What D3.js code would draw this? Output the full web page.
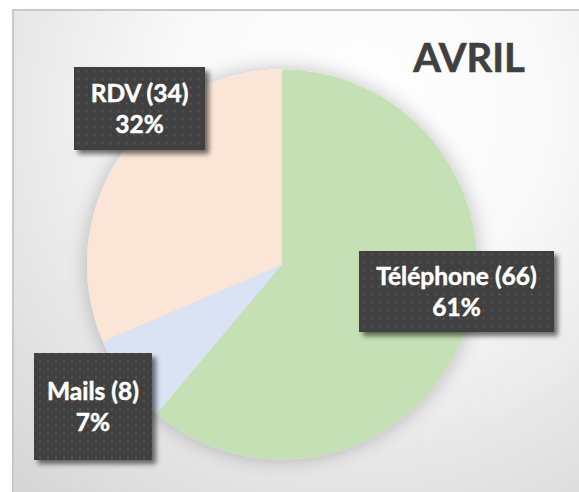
<!DOCTYPE html>
<html>
<head>
<meta charset="utf-8">
<script src="https://cdn.jsdelivr.net/npm/d3@7"></script>
<style>
  html, body { margin: 0; padding: 0; background: #fff; }
  svg { display: block; }
</style>
</head>
<body>
<div id="chart"></div>
<script>
// data
var categories = ["Téléphone", "Mails", "RDV"];
var values = [66, 8, 34];
var colors = ["#c5e0b4", "#dae3f3", "#fbe5d6"];
var title = "AVRIL";

var width = 579, height = 492;
var cx = 282, cy = 264.5, radius = 195;

// label box layout (center offset from pie center, box size)
var labelLayout = [
  { dx: 174.5, dy: 27, w: 195, h: 81 },
  { dx: -189, dy: 142, w: 118, h: 107 },
  { dx: -142.5, dy: -156, w: 131, h: 83 }
];

// percentages rounded so they add up to 100 (like Excel's labels)
function percents(vals) {
  var tot = d3.sum(vals);
  var raw = vals.map(function(v) { return v / tot * 100; });
  var fl = raw.map(Math.floor);
  var left = 100 - d3.sum(fl);
  var order = d3.range(vals.length).sort(function(a, b) {
    return (raw[b] - fl[b]) - (raw[a] - fl[a]);
  });
  for (var k = 0; k < left; k++) fl[order[k]] += 1;
  return fl;
}
var pct = percents(values);

var svg = d3.select("#chart").append("svg")
    .attr("width", width)
    .attr("height", height);

var defs = svg.append("defs");

var bg = defs.append("radialGradient")
    .attr("id", "bg")
    .attr("gradientUnits", "userSpaceOnUse")
    .attr("cx", 360).attr("cy", 110).attr("r", 500);
bg.append("stop").attr("offset", "0%").attr("stop-color", "#ffffff");
bg.append("stop").attr("offset", "40%").attr("stop-color", "#f8f8f8");
bg.append("stop").attr("offset", "100%").attr("stop-color", "#d7d7d7");

var pat = defs.append("pattern")
    .attr("id", "dots")
    .attr("patternUnits", "userSpaceOnUse")
    .attr("width", 8).attr("height", 8);
pat.append("rect").attr("width", 8).attr("height", 8).attr("fill", "#404040");
pat.append("rect").attr("x", 2).attr("y", 2).attr("width", 2).attr("height", 2).attr("fill", "#575757");
pat.append("rect").attr("x", 6).attr("y", 6).attr("width", 1).attr("height", 1).attr("fill", "#4c4c4c");

var glow = defs.append("filter").attr("id", "glow")
    .attr("x", "-20%").attr("y", "-20%").attr("width", "140%").attr("height", "140%");
glow.append("feGaussianBlur").attr("in", "SourceAlpha").attr("stdDeviation", 10).attr("result", "b");
glow.append("feComponentTransfer").attr("in", "b").attr("result", "s")
  .append("feFuncA").attr("type", "linear").attr("slope", 0.25);
var gm = glow.append("feMerge");
gm.append("feMergeNode").attr("in", "s");
gm.append("feMergeNode").attr("in", "SourceGraphic");

var shadow = defs.append("filter").attr("id", "shadow")
    .attr("x", "-20%").attr("y", "-20%").attr("width", "140%").attr("height", "140%");
shadow.append("feGaussianBlur").attr("in", "SourceAlpha").attr("stdDeviation", 2.5).attr("result", "b");
shadow.append("feOffset").attr("in", "b").attr("dx", 4).attr("dy", 4).attr("result", "o");
shadow.append("feComponentTransfer").attr("in", "o").attr("result", "s")
  .append("feFuncA").attr("type", "linear").attr("slope", 0.55);
var sm = shadow.append("feMerge");
sm.append("feMergeNode").attr("in", "s");
sm.append("feMergeNode").attr("in", "SourceGraphic");

// chart area
svg.append("rect")
    .attr("x", 13).attr("y", 10)
    .attr("width", width).attr("height", height)
    .attr("fill", "url(#bg)")
    .attr("stroke", "#c9c9c9")
    .attr("stroke-width", 2);

svg.append("text")
    .attr("x", 469).attr("y", 72)
    .attr("text-anchor", "middle")
    .attr("font-family", "Lato, sans-serif")
    .attr("font-weight", "bold")
    .attr("font-size", 40)
    .attr("fill", "#404040")
    .attr("stroke", "#404040")
    .attr("stroke-width", 0.6)
    .text(title);

var pie = d3.pie().sort(null).value(function(d) { return d; });
var arc = d3.arc().innerRadius(0).outerRadius(radius);
var arcs = pie(values);

var g = svg.append("g")
    .attr("transform", "translate(" + cx + "," + cy + ")");

g.append("g")
    .attr("filter", "url(#glow)")
  .selectAll("path")
  .data(arcs)
  .enter().append("path")
    .attr("d", arc)
    .attr("fill", function(d, i) { return colors[i]; });

var labels = g.selectAll("g.label")
  .data(arcs)
  .enter().append("g")
    .attr("class", "label")
    .attr("transform", function(d, i) {
      var l = labelLayout[i];
      return "translate(" + l.dx + "," + l.dy + ")";
    });

labels.append("rect")
    .attr("x", function(d, i) { return -labelLayout[i].w / 2; })
    .attr("y", function(d, i) { return -labelLayout[i].h / 2; })
    .attr("width", function(d, i) { return labelLayout[i].w; })
    .attr("height", function(d, i) { return labelLayout[i].h; })
    .attr("fill", "url(#dots)")
    .attr("filter", "url(#shadow)");

var txt = labels.append("text")
    .attr("text-anchor", "middle")
    .attr("font-family", "Lato, sans-serif")
    .attr("font-weight", "bold")
    .attr("font-size", 24.5)
    .attr("fill", "#ffffff")
    .attr("stroke", "#ffffff")
    .attr("stroke-width", 0.5);

txt.append("tspan")
    .attr("x", 0).attr("y", -6.5)
    .text(function(d, i) { return categories[i] + " (" + values[i] + ")"; });
txt.append("tspan")
    .attr("x", 0).attr("y", 24.5)
    .text(function(d, i) { return pct[i] + "%"; });
</script>
</body>
</html>
